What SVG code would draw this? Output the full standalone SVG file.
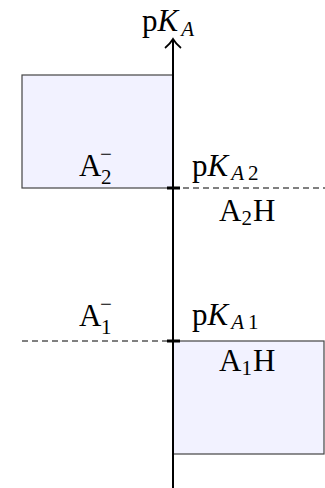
<svg xmlns="http://www.w3.org/2000/svg" width="325" height="488" viewBox="0 0 325 488">
<style>
text{font-family:"Liberation Serif","DejaVu Serif",serif;font-size:31px;fill:#000}
.s{font-size:21px}
.i{font-style:italic}
.box{fill:#f2f2ff;stroke:#444;stroke-width:1.2}
.dash{stroke:#000;stroke-width:1;stroke-dasharray:6,4;fill:none}
</style>
<g id="box-A2">
<rect class="box" x="22" y="75" width="151" height="113"/>
<text x="79" y="176">A</text><text class="s" x="101" y="184">2</text><text class="s" x="100" y="161">−</text>
</g>
<g id="box-A1H">
<rect class="box" x="173" y="341" width="151" height="113"/>
<text x="219" y="371">A<tspan class="s" dy="4">1</tspan><tspan dy="-4" dx="1">H</tspan></text>
</g>
<g id="label-A2H"><text x="219" y="221">A<tspan class="s" dy="4">2</tspan><tspan dy="-4" dx="1">H</tspan></text></g>
<g id="label-A1"><text x="79" y="326">A</text><text class="s" x="101" y="334">1</text><text class="s" x="100" y="311">−</text></g>
<g id="label-pKA2"><text x="192" y="176">p<tspan class="i">K</tspan><tspan class="s i" dy="4" dx="3">A</tspan><tspan class="s" dx="4">2</tspan></text></g>
<g id="label-pKA1"><text x="192" y="325">p<tspan class="i">K</tspan><tspan class="s i" dy="4" dx="3">A</tspan><tspan class="s" dx="4">1</tspan></text></g>
<g id="label-axis"><text x="142" y="31">p<tspan class="i">K</tspan><tspan class="s i" dy="5" dx="3">A</tspan></text></g>
<g id="connectors">
<line x1="173" y1="488" x2="173" y2="40" stroke="#000" stroke-width="2"/>
<path d="M165,48 Q170,44 173,39 Q176,44 181,48" fill="none" stroke="#000" stroke-width="1.8"/>
<line class="dash" x1="173" y1="188" x2="325" y2="188"/>
<line class="dash" x1="22" y1="341" x2="173" y2="341"/>
<line x1="167" y1="188" x2="180" y2="188" stroke="#000" stroke-width="3"/>
<line x1="167" y1="341" x2="180" y2="341" stroke="#000" stroke-width="3"/>
</g>
</svg>
